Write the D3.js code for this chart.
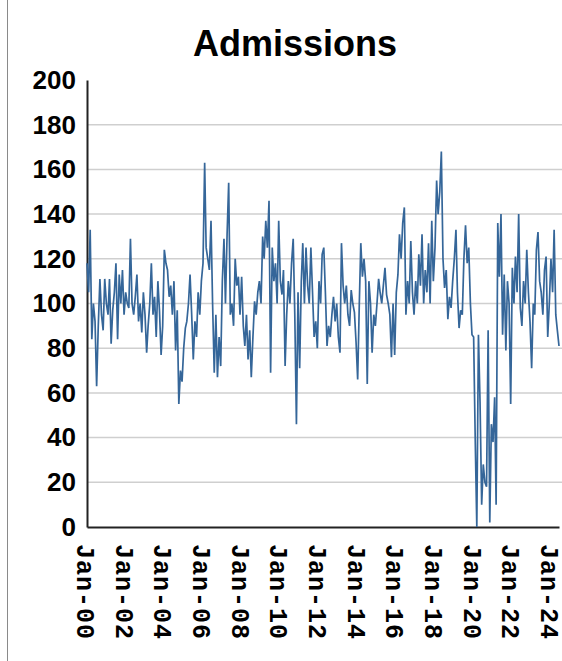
<!DOCTYPE html>
<html>
<head>
<meta charset="utf-8">
<script src="https://cdn.jsdelivr.net/npm/d3@7"></script>
<style>
    body { margin: 0; background: #fff; }
    .title { font-family: "Liberation Sans", Arial, sans-serif; font-weight: bold; }
    .ytick { font-family: "Liberation Sans", Arial, sans-serif; font-weight: bold; }
    .xtick { font-family: "Liberation Mono", monospace; font-weight: bold; }
</style>
</head>
<body>
<div id="chart"></div>
<script>
//DATA (monthly admissions, Jan 2000 - Jun 2024)
const start = new Date(2000, 0, 1);
const admissions = [
    118, 105, 133, 84, 100, 92, 63, 90, 111, 95, 88, 111,     // 2000
    100, 95, 111, 82, 97, 105, 118, 84, 113, 100, 115, 95,    // 2001
    105, 100, 98, 129, 100, 95, 103, 113, 92, 100, 87, 105,   // 2002
    95, 78, 90, 100, 118, 95, 103, 85, 110, 97, 77, 90,       // 2003
    124, 118, 115, 103, 108, 95, 110, 79, 97, 55, 70, 65,     // 2004
    80, 89, 92, 100, 113, 95, 75, 92, 85, 105, 95, 110,       // 2005
    118, 163, 125, 120, 115, 137, 100, 69, 95, 67, 85, 72,    // 2006
    110, 129, 100, 131, 154, 95, 100, 90, 120, 108, 112, 95,  // 2007
    112, 90, 81, 95, 75, 88, 67, 85, 101, 95, 105, 110,       // 2008
    100, 130, 120, 137, 125, 146, 69, 125, 110, 118, 100, 137,// 2009
    110, 104, 115, 72, 95, 110, 100, 118, 129, 95, 46, 105,   // 2010
    71, 110, 127, 100, 125, 108, 100, 125, 105, 85, 92, 80,   // 2011
    110, 100, 122, 125, 105, 81, 90, 85, 95, 103, 92, 100,    // 2012
    85, 78, 127, 108, 100, 108, 95, 90, 106, 100, 96, 83,     // 2013
    66, 100, 127, 112, 120, 110, 64, 110, 100, 78, 95, 90,    // 2014
    100, 111, 105, 100, 108, 116, 104, 100, 95, 76, 100, 77,  // 2015
    105, 113, 131, 120, 136, 143, 95, 110, 100, 128, 105, 95, // 2016
    110, 100, 122, 108, 131, 100, 115, 105, 127, 100, 137, 110,// 2017
    125, 155, 140, 150, 168, 120, 107, 115, 93, 103, 98, 110, // 2018
    120, 133, 105, 89, 97, 95, 120, 135, 118, 125, 100, 86,   // 2019
    85, 38, 0, 86, 56, 10, 28, 20, 18, 88, 2, 46,             // 2020
    38, 58, 10, 136, 112, 140, 86, 113, 79, 110, 100, 55,     // 2021
    116, 100, 121, 105, 140, 98, 90, 110, 100, 124, 105, 92,  // 2022
    71, 100, 95, 124, 132, 110, 105, 95, 115, 121, 85, 100,   // 2023
    120, 105, 133, 95, 88, 81                                  // 2024
];
const yTicks = [0, 20, 40, 60, 80, 100, 120, 140, 160, 180, 200];
const gridTicks = [20, 40, 60, 80, 100, 120, 140, 160, 180];
const xTickYears = [2000, 2002, 2004, 2006, 2008, 2010, 2012, 2014, 2016, 2018, 2020, 2022, 2024];
const title = 'Admissions';

const data = admissions.map((v, i) => ({ date: d3.timeMonth.offset(start, i), value: v }));

//SIZES
const width = 562;
const height = 661;
const margin = { top: 80, right: 3, bottom: 134, left: 87 };

const svg = d3.select('#chart').append('svg').attr('width', width).attr('height', height);

//SCALES
const x = d3.scaleTime()
    .domain(d3.extent(data, d => d.date))
    .range([margin.left, width - margin.right]);
const y = d3.scaleLinear()
    .domain([0, 200])
    .range([height - margin.bottom, margin.top]);

//LEFT BORDER
svg.append('line')
    .attr('x1', 7.5).attr('x2', 7.5).attr('y1', 0).attr('y2', height)
    .attr('stroke', '#8a8a8a').attr('stroke-width', 1);

//TITLE
svg.append('text').attr('class', 'title')
    .attr('x', 295).attr('y', 56)
    .attr('text-anchor', 'middle')
    .style('font-size', '36px')
    .text(title);

//GRID
svg.append('g').selectAll('line').data(gridTicks)
    .enter().append('line')
    .attr('x1', margin.left).attr('x2', width)
    .attr('y1', d => y(d)).attr('y2', d => y(d))
    .attr('stroke', '#cfcfcf').attr('stroke-width', 1.5);

//Y AXIS
const yAxis = svg.append('g')
    .attr('transform', 'translate(' + margin.left + ',0)')
    .call(d3.axisLeft(y).tickValues(yTicks).tickSize(0).tickPadding(11));
yAxis.select('.domain').attr('stroke', '#222').attr('stroke-width', 2);
yAxis.selectAll('text').attr('class', 'ytick').style('font-size', '26px').attr('fill', '#000');

//X AXIS
const xAxis = svg.append('g')
    .attr('transform', 'translate(0,' + y(0) + ')')
    .call(d3.axisBottom(x)
        .tickValues(xTickYears.map(yr => new Date(yr, 0, 1)))
        .tickFormat(d3.timeFormat('%b-%y'))
        .tickSize(0));
xAxis.select('.domain').attr('stroke', '#222').attr('stroke-width', 2);
xAxis.selectAll('text')
    .attr('class', 'xtick')
    .style('font-size', '25px')
    .style('letter-spacing', '1px')
    .attr('fill', '#000')
    .attr('text-anchor', 'start')
    .attr('transform', 'rotate(90)')
    .attr('x', 17)
    .attr('y', 0)
    .attr('dy', '0.42em');

//LINE
const line = d3.line().x(d => x(d.date)).y(d => y(d.value));
svg.append('path')
    .datum(data)
    .attr('fill', 'none')
    .attr('stroke', '#356699')
    .attr('stroke-width', 1.7)
    .attr('d', line);
</script>
</body>
</html>
